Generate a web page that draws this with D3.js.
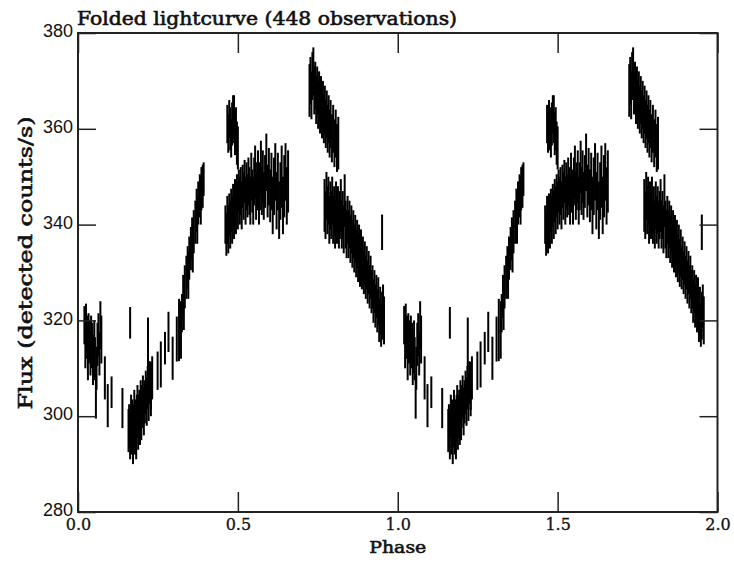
<!DOCTYPE html>
<html><head><meta charset="utf-8">
<script src="https://cdn.jsdelivr.net/npm/d3@7"></script>
<style>body{margin:0;background:#fff}svg{display:block}</style>
</head><body><svg id="c" width="734" height="562"></svg>
<script>
// Folded phase (one cycle; plotted at phase and phase+1)
const phase = [
 0.020,0.023,0.025,0.027,0.029,0.031,0.033,0.035,0.037,0.039,0.041,0.043,0.045,0.047,0.049,0.051,0.053,0.058,0.061,0.064,0.067,0.070,0.073,
 0.056,0.084,0.093,0.105,0.139,0.163,
 0.158,0.160,0.163,0.166,0.168,0.170,0.172,0.174,0.176,0.178,0.180,0.182,0.184,0.186,0.188,0.190,0.192,0.194,0.196,0.198,0.200,0.203,0.206,0.209,0.212,0.215,0.218,0.221,0.224,0.228,0.232,0.219,
 0.228,0.249,0.259,0.272,0.283,0.296,0.309,0.316,
 0.322,0.325,0.329,0.331,0.334,0.339,0.343,0.345,0.348,0.353,0.357,0.359,0.362,0.367,0.371,0.373,0.376,0.381,0.384,0.386,0.390,0.393,
 0.467,0.470,0.473,0.476,0.479,0.482,0.485,0.488,0.491,0.494,0.497,0.500,
 0.461,0.464,0.467,0.470,0.473,0.476,0.479,0.482,0.485,0.488,0.491,0.494,0.497,0.500,0.503,0.506,0.509,0.512,0.515,0.518,0.521,0.524,0.527,0.530,0.533,0.536,0.539,0.542,0.545,0.548,0.551,0.554,0.557,0.560,0.563,0.566,0.569,0.572,0.575,0.578,0.581,0.585,0.589,0.593,0.597,0.601,0.605,0.609,0.613,0.617,0.621,0.625,0.629,0.633,0.637,0.641,0.645,0.649,0.653,0.657,
 0.724,0.727,0.730,0.733,0.736,0.739,0.742,0.745,0.748,0.751,0.754,0.757,0.760,0.763,0.766,0.769,0.772,0.775,0.778,0.781,0.784,0.787,0.790,0.794,0.798,0.802,0.806,0.810,0.814,
 0.771,0.774,0.777,0.780,0.783,0.786,0.789,0.792,0.795,0.798,0.801,0.804,0.807,0.810,0.813,0.816,0.819,0.822,0.825,0.828,0.831,0.834,0.837,0.840,0.843,0.846,0.849,0.852,0.855,0.858,0.861,0.864,0.867,0.870,0.873,0.876,0.879,0.882,0.885,0.888,0.891,0.894,0.897,0.900,0.903,0.906,0.909,0.912,0.915,0.918,0.921,0.924,0.927,0.930,0.933,0.936,0.939,0.942,0.945,0.948,0.951,0.954,0.957,
 0.951
];
// Flux (detected counts/s)
const flux = [
 319,314,320,316,317,312,318,315,316,313,317,314,315,311,313,316,312,310,315,317,313,319,316,
 304,308,302.2,305,301.7,319.5,
 297,298,296,300,297,299,295,298,301,297,299,296,300,302,298,300,301,299,303,300,302,304,301,303,305,303,306,304,307,305,308,314.3,
 306.3,309.5,310.8,314.2,317.6,312.1,316.1,318,
 318,321.5,325,323,327,329,331,329.5,333,335,337,335,338.5,340.5,343,341,344.5,346,345,347.5,348,349.5,
 361,359,362,360,358,361,363,362,359,360,357,356,
 340,338,341,339,342,340,343,341,344,342,345,343,346,344,347,345,347,344,348,346,349,345,348,346,349,347,345,350,347,345,349,351,346,348,350,345,348,352,347,350,346,349,353,347,350,346,349,344,348,351,345,349,343,347,350,344,348,351,346,349,
 368,370,367,371,372,368,369,366,368,365,367,364,366,363,365,362,364,361,363,360,362,359,361,358,360,357,359,356,357,
 344,342,346,343,345,341,344,342,345,341,343,340,344,341,343,340,342,344,340,342,339,345,340,338,341,338,340,337,339,336,338,335,337,334,336,333,335,332,334,331,333,330,332,329,331,328,330,327,329,326,327,324,326,323,325,322,324,320,322,319,321,323,320,
 338.4
];
// Error bar half-length
const fluxErr = [
 4,4,3.5,4,4,4.5,3.5,4,4,4.5,4,4,4.5,4.5,4,4,4.5,4.5,4.5,4.5,4.5,5,5,
 4.5,4.5,4.5,3.3,4.2,3.3,
 4.5,4.5,5,4.5,5,4.5,5,4.5,4.5,5,4.5,5,4.5,4.5,5,4.5,4.5,5,4.5,5,4.5,4.5,5,4.5,4.5,5,4.5,5,4.5,5,4.5,6.3,
 5,4,4.8,3.4,4.2,4.5,4.7,6.5,
 6,4,4.5,5,4.5,4.5,4.5,5,4.5,4.5,4.5,5,4.5,4.5,4.5,5,4.5,4.5,5,4.5,4.5,3.5,
 4,4,4,4.5,4,4.5,4,5,4.5,4.5,4.5,4.5,
 4,4.5,5,5,4.5,5,4.5,5,4.5,5,4.5,5,4.5,5,4.5,5,5,5,4.5,5,4.5,5,5,4.5,5,5,5,5,4.5,5,5,5.5,5,5,5.5,5,5,5.5,5,5.5,5,5.5,6,5.5,6,5.5,6,6,6,6,6,6,6,6,6.5,6,6.5,6,6,6.5,
 5.5,5,5,5,5,5,5,5,5,5,5,5,5,5,5,5,5,5,5,5,5,5,5,5,5,5,5,5,5.5,
 5.5,5,5,5,5,5,5,5,5,5,5,5,5,5,5,5,5,5.5,5,5,5,5.5,5,5,5,5,5,5,5,5,5,5,5,5,5,5,5,5,5,4.5,4.5,4.5,4.5,4.5,4.5,4.5,4.5,4.5,4.5,4.5,4.5,4.5,4.5,4.5,4.5,4.5,5,4.5,5,4.5,5,4.5,5,
 3.7
];
const xTicks = [0, 0.5, 1.0, 1.5, 2.0];
const xTickLabels = ["0.0", "0.5", "1.0", "1.5", "2.0"];
const yTicks = [280, 300, 320, 340, 360, 380];
const title = "Folded lightcurve (448 observations)";
const xTitle = "Phase";
const yTitle = "Flux (detected counts/s)";

const L = 78, R = 717.5, T = 33, B = 512;
const x = d3.scaleLinear().domain([0, 2]).range([L, R]);
const y = d3.scaleLinear().domain([280, 380]).range([B, T]);
const svg = d3.select("#c");

const pts = [];
for (const k of [0, 1]) phase.forEach((p, i) => pts.push({p: p + k, f: flux[i], e: fluxErr[i]}));

svg.append("g").selectAll("line").data(pts).join("line")
  .attr("x1", d => x(d.p)).attr("x2", d => x(d.p))
  .attr("y1", d => y(d.f - d.e)).attr("y2", d => y(d.f + d.e))
  .attr("stroke", "#000").attr("stroke-width", 2);

const serif = "'DejaVu Serif', serif";
const gB = svg.append("g").attr("transform", `translate(0,${B})`)
  .call(d3.axisBottom(x).tickValues(xTicks).tickFormat((d, i) => xTickLabels[i]).tickSizeInner(-20).tickSizeOuter(0).tickPadding(7));
const gT = svg.append("g").attr("transform", `translate(0,${T})`)
  .call(d3.axisTop(x).tickValues(xTicks).tickFormat("").tickSizeInner(-20).tickSizeOuter(0));
const gL = svg.append("g").attr("transform", `translate(${L},0)`)
  .call(d3.axisLeft(y).tickValues(yTicks).tickFormat(d3.format("d")).tickSizeInner(-18).tickSizeOuter(0).tickPadding(5));
const gR = svg.append("g").attr("transform", `translate(${R},0)`)
  .call(d3.axisRight(y).tickValues(yTicks).tickFormat("").tickSizeInner(-18).tickSizeOuter(0));
[gB, gT, gL, gR].forEach(g => { g.select(".domain").remove(); g.selectAll(".tick line").attr("stroke", "#222").attr("stroke-width", 1.5); });
gB.selectAll(".tick text").attr("font-family", serif).attr("font-size", 16).attr("fill", "#111")
  .attr("stroke", "#111").attr("stroke-width", 0.3).attr("dy", "0.71em");
gL.selectAll(".tick text").attr("font-family", "'Liberation Sans', Arial, sans-serif").attr("font-size", 18).attr("fill", "#111")
  .attr("dy", "0.2em");

svg.append("rect").attr("x", L).attr("y", T).attr("width", R - L).attr("height", B - T)
  .attr("fill", "none").attr("stroke", "#222").attr("stroke-width", 2);

svg.append("text").attr("x", 77).attr("y", 25).attr("font-family", serif)
  .attr("font-size", 18).attr("stroke", "#111").attr("stroke-width", 0.6)
  .attr("textLength", 380).attr("lengthAdjust", "spacingAndGlyphs").attr("fill", "#111").text(title);
svg.append("text").attr("x", (L + R) / 2).attr("y", 553).attr("text-anchor", "middle").attr("font-family", serif)
  .attr("font-size", 17).attr("stroke", "#111").attr("stroke-width", 0.6)
  .attr("textLength", 57).attr("lengthAdjust", "spacingAndGlyphs").attr("fill", "#111").text(xTitle);
svg.append("text").attr("transform", `translate(32,263) rotate(-90)`).attr("text-anchor", "middle")
  .attr("font-family", serif).attr("font-size", 18).attr("stroke", "#111").attr("stroke-width", 0.6)
  .attr("textLength", 293).attr("lengthAdjust", "spacingAndGlyphs").attr("fill", "#111").text(yTitle);
</script></body></html>
